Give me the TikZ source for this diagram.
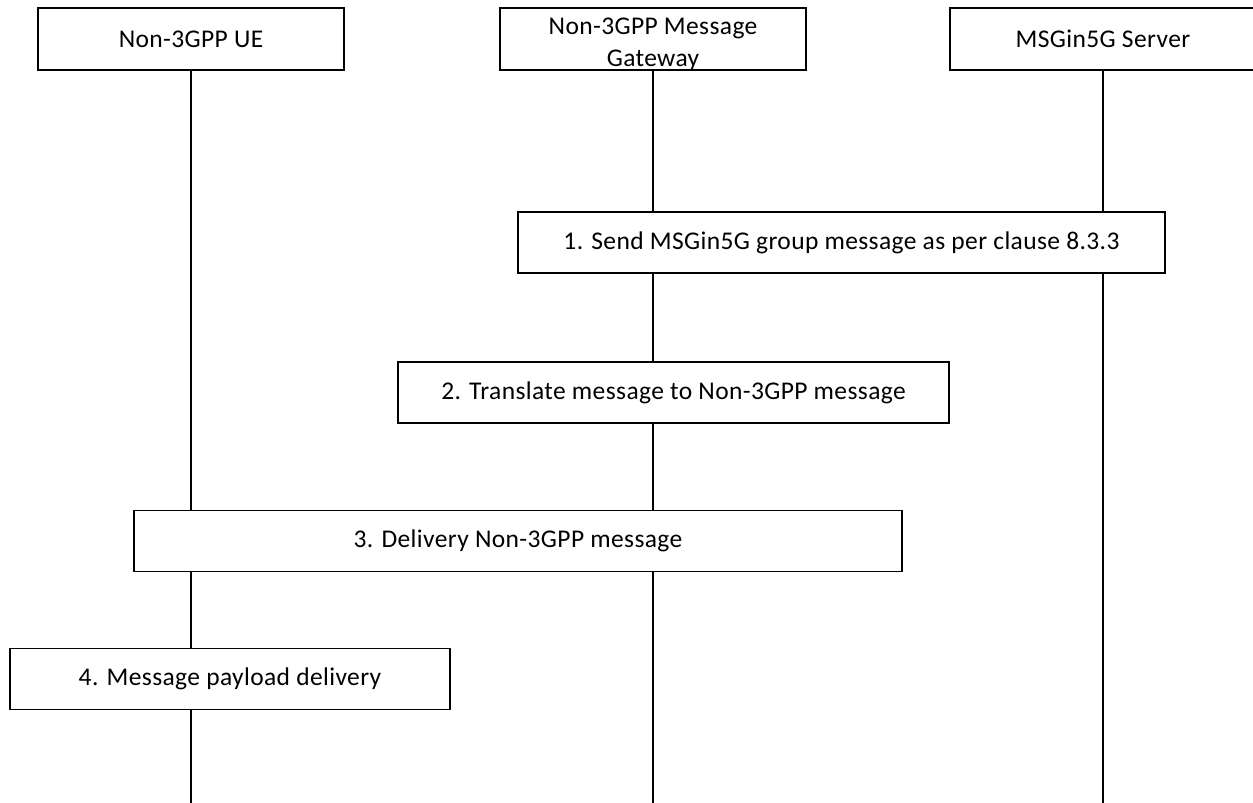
\documentclass[tikz,border=0pt]{standalone}
\usepackage{fontspec}
\setmainfont{Carlito}[LetterSpace=1.5]
\begin{document}
\begin{tikzpicture}[x=1pt,y=-1pt,
  every node/.style={font=\fontsize{25.5}{32}\selectfont},
  actor/.style={draw,line width=1.3pt,fill=white,minimum width=306pt,minimum height=62pt,inner sep=0pt,align=center},
  stepbox/.style={draw,line width=1.3pt,fill=white,minimum height=61pt,inner sep=0pt},
  life/.style={line width=1.3pt}]
\useasboundingbox (0,0) rectangle (1253,803);
\begin{scope}
\clip (0,0) rectangle (1253,803);
\coordinate (ueEnd) at (191,803);
\coordinate (gwEnd) at (653,803);
\coordinate (svEnd) at (1103,803);
\node[actor] (ue) at (191,39) {Non-3GPP UE};
\node[actor] (gw) at (653,39) {\raisebox{-11pt}[0pt][0pt]{\begin{tabular}{@{}c@{}}Non-3GPP Message\\Gateway\end{tabular}}};
\node[actor] (sv) at (1103,39) {MSGin5G Server};
\draw[life] (ue.south) -- (ueEnd);
\draw[life] (gw.south) -- (gwEnd);
\draw[life] (sv.south) -- (svEnd);
\node[stepbox,minimum width=647pt] (s1) at (841.5,242.5) {1. Send MSGin5G group message as per clause 8.3.3};
\node[stepbox,minimum width=551pt] (s2) at (673.5,392.5) {2. Translate message to Non-3GPP message};
\node[stepbox,minimum width=768pt] (s3) at (518,541) {3. Delivery Non-3GPP message};
\node[stepbox,minimum width=440pt] (s4) at (230,679) {4. Message payload delivery};
\end{scope}
\end{tikzpicture}
\end{document}
